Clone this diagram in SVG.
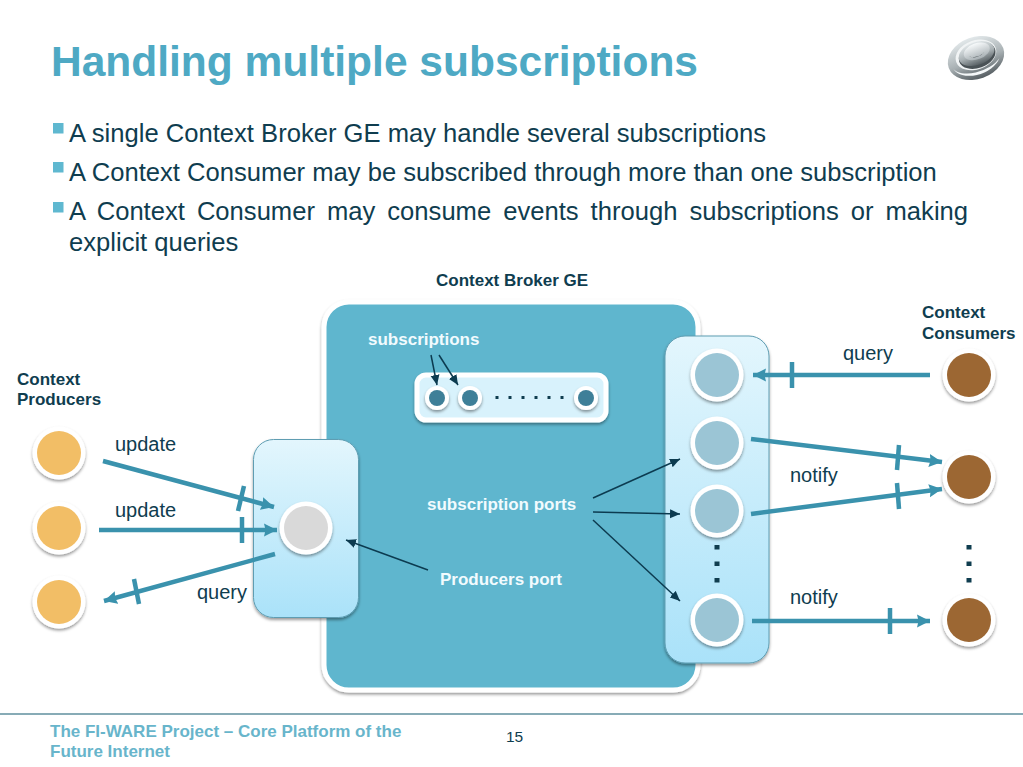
<svg xmlns="http://www.w3.org/2000/svg" width="1023" height="767" viewBox="0 0 1023 767">
<style>
text{font-family:"Liberation Sans",Arial,sans-serif;fill:#0F3D4F}
.title{font-size:42.5px;font-weight:700;fill:#4EA9C4}
.body{font-size:25.6px}
.bold{font-size:17px;font-weight:700}
.white{font-size:17px;font-weight:700;fill:#F2FBFE}
.lab{font-size:20px}
.foot{font-size:17px;font-weight:700;fill:#68B5CB}
.bullet{fill:#5FB8D0}
.ring{fill:#fff;filter:url(#sh)}
.thick-h{stroke:#3A92AD;stroke-width:4.500;fill:none;marker-end:url(#big)}
.tick{stroke:#3A92AD;stroke-width:4.500;fill:none}
.thin{stroke:#0C3B50;stroke-width:1.500;fill:none;marker-end:url(#small)}
.dot{fill:#0F3D4F}
.panel{stroke:#5E9DB2;stroke-width:1;fill:url(#pg);filter:url(#sh)}
</style>
<defs>
<linearGradient id="pg" x1="0" y1="0" x2="0" y2="1"><stop offset="0" stop-color="#E3F6FD"/><stop offset="1" stop-color="#AAE2F9"/></linearGradient>
<linearGradient id="lg" x1="0" y1="0" x2="0" y2="1"><stop offset="0" stop-color="#E2E8EA"/><stop offset="0.55" stop-color="#A9B1B4"/><stop offset="1" stop-color="#565E62"/></linearGradient>
<linearGradient id="lg2" x1="0" y1="0" x2="0" y2="1"><stop offset="0" stop-color="#F7FAFB"/><stop offset="1" stop-color="#A8B0B4"/></linearGradient>
<filter id="sh" x="-30%" y="-30%" width="160%" height="160%"><feDropShadow dx="0" dy="2" stdDeviation="1.600" flood-color="#000" flood-opacity="0.4"/></filter>
<marker id="big" markerUnits="userSpaceOnUse" markerWidth="16" markerHeight="16" refX="13" refY="8" orient="auto"><path d="M0 1.500L13 8L0 14.500L1.500 8Z" fill="#3A92AD"/></marker>
<marker id="small" markerUnits="userSpaceOnUse" markerWidth="11" markerHeight="10" refX="10" refY="5" orient="auto"><path d="M0 0.500L10 5L0 9.500Z" fill="#0C3B50"/></marker>
</defs>
<rect width="1023" height="767" fill="#fff"/>

<g id="header">
<text class="title" x="51" y="76">Handling multiple subscriptions</text>
<g id="logo" transform="translate(976,58) rotate(-20)">
<ellipse rx="29" ry="21" fill="url(#lg)"/>
<path d="M-25 2A25 16 0 0 0 22 8A26 14 0 0 1 -25 2Z" fill="#F4F7F8"/>
<ellipse cx="1" cy="-3" rx="21" ry="14.500" fill="#F1F4F5"/>
<ellipse cx="2" cy="-2" rx="19" ry="12.500" fill="#4A5256"/>
<ellipse cx="2" cy="-4" rx="18.500" ry="11.500" fill="url(#lg)"/>
<ellipse cx="3" cy="-6" rx="13.500" ry="8" fill="url(#lg2)"/>
<path d="M-6 -4A9 4.500 0 0 0 10 -3A10 7 0 0 1 -6 -4Z" fill="#3C4448"/>
</g>
<rect class="bullet" x="53" y="123" width="10.500" height="10.500"/>
<text class="body" x="69" y="142">A single Context Broker GE may handle several subscriptions</text>
<rect class="bullet" x="53" y="162" width="10.500" height="10.500"/>
<text class="body" x="69" y="181">A Context Consumer may be subscribed through more than one subscription</text>
<rect class="bullet" x="53" y="202" width="10.500" height="10.500"/>
<text class="body" x="69" y="220" word-spacing="4.900">A Context Consumer may consume events through subscriptions or making</text>
<text class="body" x="69" y="251">explicit queries</text>
<text class="bold" x="436" y="286">Context Broker GE</text>
</g>

<g id="broker">
<rect x="324" y="302" width="374" height="388" rx="25" fill="#5FB6CE" stroke="#fff" stroke-width="5" filter="url(#sh)"/>
<text class="white" x="368" y="345">subscriptions</text>
<text class="white" x="427" y="510">subscription ports</text>
<text class="white" x="440" y="585">Producers port</text>
</g>

<g id="subscriptions-bar">
<rect x="417" y="375" width="189" height="45" rx="9" fill="#D8F2FC" stroke="#fff" stroke-width="5" filter="url(#sh)"/>
<circle class="ring" cx="437" cy="398" r="12"/><circle cx="437" cy="398" r="8" fill="#3E7F98"/>
<circle class="ring" cx="470" cy="398" r="12"/><circle cx="470" cy="398" r="8" fill="#3E7F98"/>
<circle class="ring" cx="586" cy="398" r="12"/><circle cx="586" cy="398" r="8" fill="#3E7F98"/>
<rect class="dot" x="495.500" y="396" width="3" height="3"/><rect class="dot" x="508.500" y="396" width="3" height="3"/><rect class="dot" x="521.500" y="396" width="3" height="3"/><rect class="dot" x="534.500" y="396" width="3" height="3"/><rect class="dot" x="547.500" y="396" width="3" height="3"/><rect class="dot" x="560.500" y="396" width="3" height="3"/>
</g>

<g id="producers-panel">
<rect class="panel" x="253.500" y="439.500" width="105" height="178" rx="20"/>
<circle class="ring" cx="306" cy="528" r="26.500"/><circle cx="306" cy="528" r="22" fill="#D9D9D9"/>
</g>

<g id="ports-panel">
<rect class="panel" x="665" y="336" width="104" height="327" rx="20"/>
<circle class="ring" cx="717" cy="375" r="26.500"/><circle cx="717" cy="375" r="22" fill="#9BC5D5"/>
<circle class="ring" cx="717" cy="443" r="26.500"/><circle cx="717" cy="443" r="22" fill="#9BC5D5"/>
<circle class="ring" cx="717" cy="511" r="26.500"/><circle cx="717" cy="511" r="22" fill="#9BC5D5"/>
<circle class="ring" cx="717" cy="620" r="26.500"/><circle cx="717" cy="620" r="22" fill="#9BC5D5"/>
<rect class="dot" x="714.500" y="545" width="5" height="4.500"/><rect class="dot" x="714.500" y="561.500" width="5" height="4.500"/><rect class="dot" x="714.500" y="578" width="5" height="4.500"/>
</g>

<g id="producers">
<text class="bold" x="17" y="385">Context</text>
<text class="bold" x="17" y="405">Producers</text>
<g id="producer-1"><circle class="ring" cx="59" cy="453" r="26.500"/><circle cx="59" cy="453" r="22" fill="#F2BE66"/></g>
<g id="producer-2"><circle class="ring" cx="59" cy="528" r="26.500"/><circle cx="59" cy="528" r="22" fill="#F2BE66"/></g>
<g id="producer-3"><circle class="ring" cx="59" cy="602" r="26.500"/><circle cx="59" cy="602" r="22" fill="#F2BE66"/></g>
</g>

<g id="consumers">
<text class="bold" x="922" y="318">Context</text>
<text class="bold" x="922" y="339">Consumers</text>
<g id="consumer-1"><circle class="ring" cx="969" cy="375" r="26.500"/><circle cx="969" cy="375" r="22" fill="#9C6733"/></g>
<g id="consumer-2"><circle class="ring" cx="969" cy="477" r="26.500"/><circle cx="969" cy="477" r="22" fill="#9C6733"/></g>
<g id="consumer-3"><circle class="ring" cx="969" cy="620" r="26.500"/><circle cx="969" cy="620" r="22" fill="#9C6733"/></g>
<rect class="dot" x="966.500" y="545" width="5" height="4.500"/><rect class="dot" x="966.500" y="561.500" width="5" height="4.500"/><rect class="dot" x="966.500" y="578" width="5" height="4.500"/>
</g>

<g id="connectors">
<line class="thick-h" x1="103" y1="461" x2="274" y2="507"/>
<line class="tick" x1="244" y1="486" x2="238" y2="511"/>
<line class="thick-h" x1="99" y1="530" x2="277" y2="530"/>
<line class="tick" x1="242" y1="517" x2="242" y2="543"/>
<line class="thick-h" x1="275" y1="554" x2="104" y2="601"/>
<line class="tick" x1="134" y1="579" x2="139" y2="604"/>
<line class="thick-h" x1="930" y1="375" x2="753" y2="375"/>
<line class="tick" x1="792" y1="362" x2="792" y2="388"/>
<line class="thick-h" x1="751" y1="439" x2="942" y2="462"/>
<line class="tick" x1="899" y1="445" x2="897" y2="470"/>
<line class="thick-h" x1="751" y1="514" x2="942" y2="489"/>
<line class="tick" x1="897" y1="483" x2="899" y2="509"/>
<line class="thick-h" x1="752" y1="621" x2="930" y2="621"/>
<line class="tick" x1="890" y1="608" x2="890" y2="634"/>
<line class="thin" x1="593" y1="498" x2="680" y2="459"/>
<line class="thin" x1="593" y1="512" x2="680" y2="514"/>
<line class="thin" x1="593" y1="520" x2="680" y2="601"/>
<line class="thin" x1="428" y1="570" x2="346" y2="540"/>
<line class="thin" x1="431" y1="355" x2="437" y2="385"/>
<line class="thin" x1="439" y1="355" x2="458" y2="385"/>
</g>

<g id="connector-labels">
<text class="lab" x="115" y="451">update</text>
<text class="lab" x="115" y="517">update</text>
<text class="lab" x="197" y="599">query</text>
<text class="lab" x="843" y="360">query</text>
<text class="lab" x="790" y="482">notify</text>
<text class="lab" x="790" y="604">notify</text>
</g>

<g id="footer">
<line x1="0" y1="714" x2="1023" y2="714" stroke="#5F8F9E" stroke-width="1.500"/>
<text class="foot" x="50" y="737">The FI-WARE Project – Core Platform of the</text>
<text class="foot" x="50" y="757">Future Internet</text>
<text x="506" y="742" font-size="15.500">15</text>
</g>
</svg>
